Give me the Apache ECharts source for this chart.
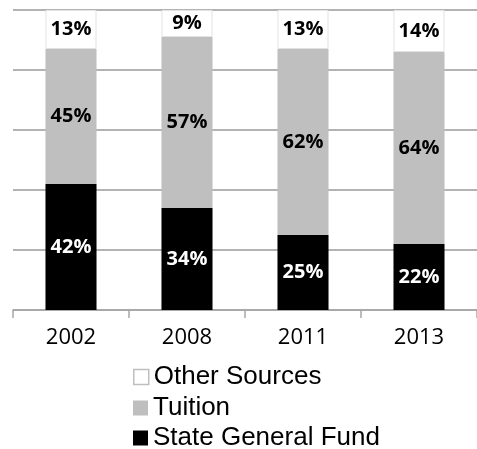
<!DOCTYPE html>
<html>
<head>
<meta charset="utf-8">
<script src="https://cdn.jsdelivr.net/npm/echarts@6/dist/echarts.min.js"></script>
<style>html,body{margin:0;padding:0;background:#fff;}#c{width:477px;height:449px;}</style>
</head>
<body>
<div id="c"></div>
<script>
const categories = ['2002', '2008', '2011', '2013'];
const stateGeneralFund = [42, 34, 25, 22];
const tuition = [45, 57, 62, 64];
const otherSources = [13, 9, 13, 14];
const yTicks = [0, 20, 40, 60, 80, 100];
const legendNames = ['Other Sources', 'Tuition', 'State General Fund'];

const chart = echarts.init(document.getElementById('c'), null, {renderer: 'canvas'});
const labelBase = {show: true, position: 'inside', fontFamily: 'Open Sans', fontWeight: 'bold', fontSize: 20, formatter: p => p.value + '%'};
const legendTops = [364, 395, 425];
chart.setOption({
  animation: false,
  grid: {left: 13, right: -8, top: 10, bottom: 139, containLabel: false},
  legend: legendNames.map((n, i) => ({
    orient: 'vertical', left: 133, top: legendTops[i], padding: 0,
    itemWidth: 15, itemHeight: 15,
    data: [i === 0 ? {name: n, itemStyle: {borderColor: '#bfbfbf', borderWidth: 1.5}} : n],
    textStyle: {fontFamily: 'Liberation Sans', fontSize: 26, color: '#000', lineHeight: 24},
    icon: 'rect'
  })),
  xAxis: {
    type: 'category', data: categories,
    axisLine: {lineStyle: {color: '#a6a6a6', width: 1.5}},
    axisTick: {show: true, length: 8, lineStyle: {color: '#a6a6a6', width: 1.5}},
    axisLabel: {fontFamily: 'Open Sans', fontSize: 22, color: '#000', margin: 17}
  },
  yAxis: {
    type: 'value', min: yTicks[0], max: yTicks[yTicks.length - 1], interval: 20,
    axisLabel: {show: false}, axisLine: {show: false}, axisTick: {show: false},
    splitLine: {lineStyle: {color: '#9a9a9a', width: 1.5}}
  },
  series: [
    {name: 'State General Fund', type: 'bar', stack: 't', data: stateGeneralFund, barWidth: '44%',
     itemStyle: {color: '#000'}, label: Object.assign({}, labelBase, {color: '#fff'})},
    {name: 'Tuition', type: 'bar', stack: 't', data: tuition,
     itemStyle: {color: '#bfbfbf'}, label: Object.assign({}, labelBase, {color: '#000'})},
    {name: 'Other Sources', type: 'bar', stack: 't', data: otherSources,
     itemStyle: {color: '#fff', borderColor: '#e3e3e3', borderWidth: 1}, label: Object.assign({}, labelBase, {color: '#000'})}
  ]
});
</script>
</body>
</html>
